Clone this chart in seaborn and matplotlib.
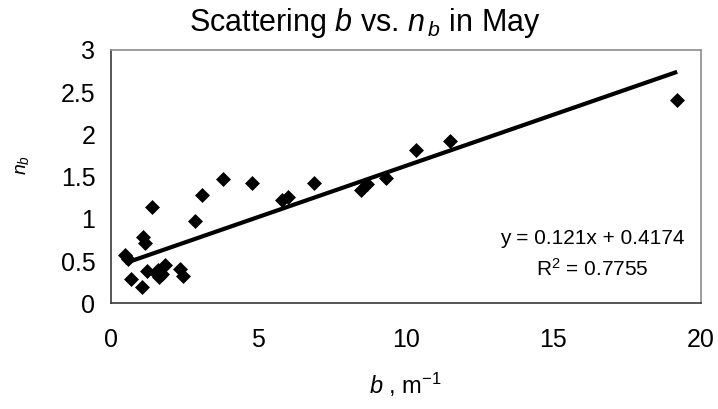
import matplotlib
matplotlib.use("Agg")
import matplotlib.pyplot as plt
import numpy as np
import pandas as pd
import seaborn as sns

# Scattering coefficient b (m^-1) and exponent n_b, May samples
b_vals = [0.5, 0.6, 0.7, 1.05, 1.1, 1.15, 1.25, 1.4, 1.55, 1.6, 1.65, 1.75, 1.85,
          2.35, 2.45, 2.85, 3.1, 3.8, 4.8, 5.8, 6.0, 6.9, 8.5, 8.7, 9.35, 10.35,
          11.5, 19.2]
nb_vals = [0.57, 0.53, 0.29, 0.19, 0.79, 0.71, 0.38, 1.14, 0.36, 0.40, 0.31, 0.35,
           0.46, 0.41, 0.33, 0.97, 1.28, 1.47, 1.42, 1.22, 1.26, 1.42, 1.34, 1.41,
           1.49, 1.82, 1.92, 2.41]

# Linear trend as reported in the annotation
slope = 0.121
intercept = 0.4174
r_squared = 0.7755

x_ticks = [0, 5, 10, 15, 20]
y_ticks = [0, 0.5, 1, 1.5, 2, 2.5, 3]
y_tick_labels = ["0", "0.5", "1", "1.5", "2", "2.5", "3"]

sns.set_style("white")
plt.rcParams["font.family"] = ["Liberation Sans", "DejaVu Sans"]
plt.rcParams["mathtext.fontset"] = "custom"
plt.rcParams["mathtext.rm"] = "Liberation Sans"
plt.rcParams["mathtext.it"] = "Liberation Sans:italic"
plt.rcParams["mathtext.bf"] = "Liberation Sans:bold"

df = pd.DataFrame({"b": b_vals, "nb": nb_vals})

fig = plt.figure(figsize=(7.18, 4.09), dpi=100)
ax = fig.add_axes([0.154, 0.258, 0.822, 0.620])

sns.scatterplot(data=df, x="b", y="nb", ax=ax, marker="D", s=58,
                color="black", edgecolor="black", linewidth=0, zorder=3)

x_line = np.array([min(b_vals), max(b_vals)])
ax.plot(x_line, slope * x_line + intercept, color="black", lw=3.0,
        solid_capstyle="butt", zorder=4)

ax.set_xlim(0, 20)
ax.set_ylim(0, 3)
ax.set_xticks(x_ticks)
ax.set_xticklabels([str(t) for t in x_ticks])
ax.set_yticks(y_ticks)
ax.set_yticklabels(y_tick_labels)
ax.tick_params(axis="both", direction="out", length=6, width=1.0,
               color="#3a3a3a", labelsize=18, labelcolor="black")
ax.tick_params(axis="x", pad=12)
ax.tick_params(axis="y", pad=5)

for side in ["left", "bottom"]:
    ax.spines[side].set_color("#3a3a3a")
    ax.spines[side].set_linewidth(1.2)
for side in ["top", "right"]:
    ax.spines[side].set_color("#8c8c8c")
    ax.spines[side].set_linewidth(1.2)

ax.set_xlabel("")
ax.set_ylabel("")

fig.text(0.508, 0.944, r"Scattering $b$ vs. $n_{\,b}$ in May", ha="center",
         va="center", fontsize=22, color="black")
fig.text(0.564, 0.058, r"$b$ , m$^{-1}$", ha="center", va="center",
         fontsize=17, color="black")
fig.text(0.032, 0.597, r"$n_b$", ha="center", va="center", rotation=90,
         fontsize=14, color="black")

fig.text(592 / 718, 1 - 239 / 409, f"y = {slope}x + {intercept}",
         ha="center", va="center", fontsize=15, color="black")
fig.text(592 / 718, 1 - 269 / 409, f"R$^2$ = {r_squared}",
         ha="center", va="center", fontsize=15, color="black")

fig.savefig("out.png", dpi=100)
